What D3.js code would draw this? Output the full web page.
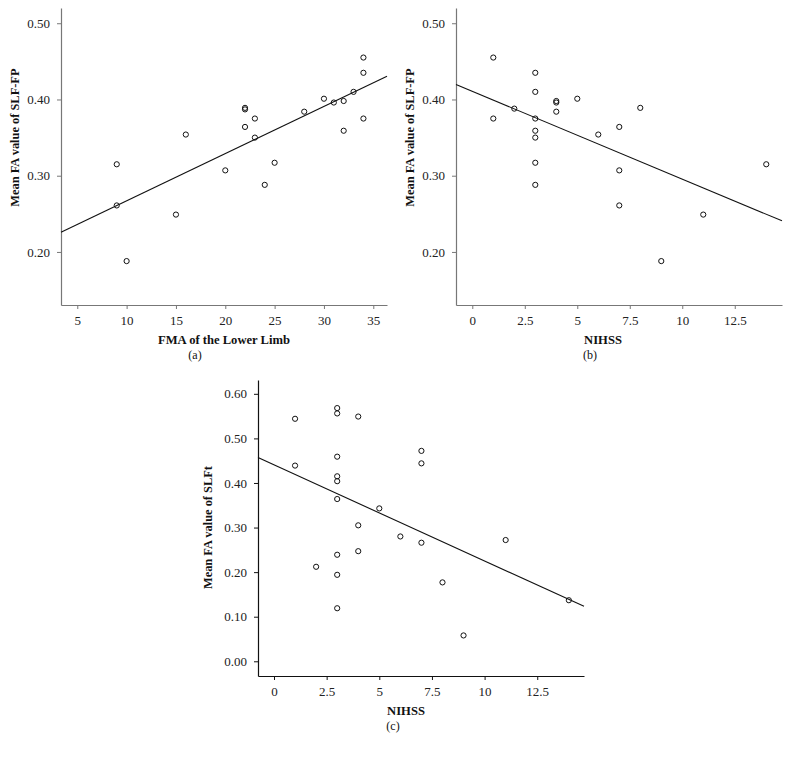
<!DOCTYPE html>
<html>
<head>
<meta charset="utf-8">
<script src="https://cdn.jsdelivr.net/npm/d3@7"></script>
<style>
  body { margin: 0; background: #fff; }
  svg, svg text { font-family: "Liberation Serif", "Times New Roman", serif; }
</style>
</head>
<body>
<div id="chart"></div>
<script>
// panel (a): FMA of the lower limb vs mean FA of SLF-FP
var fmaA = [9, 9, 10, 15, 16, 20, 22, 22, 22, 23, 23, 24, 25, 28, 30, 31, 32, 32, 33, 34, 34, 34];
var slfFpA = [0.315, 0.261, 0.188, 0.249, 0.354, 0.307, 0.389, 0.387, 0.364, 0.375, 0.350, 0.288, 0.317, 0.384, 0.401, 0.396, 0.398, 0.359, 0.410, 0.455, 0.435, 0.375];
// panel (b): NIHSS vs mean FA of SLF-FP
var nihssB = [1, 1, 2, 3, 3, 3, 3, 3, 3, 3, 4, 4, 4, 5, 6, 7, 7, 7, 8, 9, 11, 14];
var slfFpB = [0.455, 0.375, 0.388, 0.435, 0.410, 0.375, 0.359, 0.350, 0.317, 0.288, 0.398, 0.396, 0.384, 0.401, 0.354, 0.364, 0.307, 0.261, 0.389, 0.188, 0.249, 0.315];
// panel (c): NIHSS vs mean FA of SLFt
var nihssC = [1, 1, 2, 3, 3, 3, 3, 3, 3, 3, 3, 3, 4, 4, 4, 5, 6, 7, 7, 7, 8, 9, 11, 14];
var slfFtC = [0.544, 0.439, 0.212, 0.568, 0.556, 0.459, 0.415, 0.404, 0.364, 0.239, 0.194, 0.119, 0.549, 0.305, 0.247, 0.343, 0.280, 0.472, 0.444, 0.266, 0.177, 0.058, 0.272, 0.137];

// fit lines [intercept, slope]
var fitA = [0.205, 0.0062];
var fitB = [0.4107, -0.01152];
var fitC = [0.4406, -0.02155];

var ticksXA = [5, 10, 15, 20, 25, 30, 35];
var ticksXBC = [0, 2.5, 5, 7.5, 10, 12.5];
var ticksYAB = [0.20, 0.30, 0.40, 0.50];
var ticksYC = [0.00, 0.10, 0.20, 0.30, 0.40, 0.50, 0.60];

var w = 790, h = 760;
var svg = d3.select("#chart").append("svg")
    .attr("width", w)
    .attr("height", h);

function panel(cfg) {
    var x = d3.scaleLinear().domain(cfg.xDomain).range([cfg.left, cfg.right]);
    var y = d3.scaleLinear().domain(cfg.yDomain).range([cfg.bottom, cfg.top]);
    var g = svg.append("g");

    var xAxis = g.append("g")
        .attr("transform", "translate(0," + cfg.bottom + ")")
        .call(d3.axisBottom(x).tickValues(cfg.xTicks).tickSize(4).tickSizeOuter(0).tickPadding(7)
            .tickFormat(function (d) { return d3.format("")(d); }));
    var yAxis = g.append("g")
        .attr("transform", "translate(" + cfg.left + ",0)")
        .call(d3.axisLeft(y).tickValues(cfg.yTicks).tickSize(4).tickSizeOuter(0).tickPadding(7)
            .tickFormat(d3.format(".2f")));
    [xAxis, yAxis].forEach(function (a) {
        a.attr("font-family", null).attr("font-size", null);
        a.select(".domain").attr("stroke", cfg.axisColor).attr("stroke-width", 1.2);
        a.selectAll(".tick line").attr("stroke", cfg.axisColor);
        a.selectAll(".tick text").attr("fill", "#222").style("font-size", "13px");
    });

    // fit line across the plot width
    var xs = cfg.xDomain;
    g.append("line")
        .attr("x1", x(xs[0])).attr("y1", y(cfg.fit[0] + cfg.fit[1] * xs[0]))
        .attr("x2", x(xs[1])).attr("y2", y(cfg.fit[0] + cfg.fit[1] * xs[1]))
        .attr("stroke", "#111").attr("stroke-width", 1.1);

    g.selectAll("circle.pt").data(cfg.xs).enter()
        .append("circle")
        .attr("class", "pt")
        .attr("cx", function (d) { return x(d); })
        .attr("cy", function (d, i) { return y(cfg.ys[i]); })
        .attr("r", 2.6)
        .attr("fill", "none")
        .attr("stroke", "#111")
        .attr("stroke-width", 1);

    var yMid = (y(cfg.yTicks[0]) + y(cfg.yTicks[cfg.yTicks.length - 1])) / 2;
    g.append("text")
        .attr("transform", "translate(" + cfg.yTitleX + "," + yMid + ") rotate(-90)")
        .attr("text-anchor", "middle")
        .attr("dy", "0.35em")
        .style("font-size", "12.4px")
        .style("font-weight", "bold")
        .attr("fill", "#111")
        .text(cfg.yTitle);
    g.append("text")
        .attr("x", cfg.xTitleX).attr("y", cfg.bottom + 35)
        .attr("text-anchor", "middle")
        .attr("dy", "0.35em")
        .style("font-size", "12.6px")
        .style("font-weight", "bold")
        .attr("fill", "#111")
        .text(cfg.xTitle);
    g.append("text")
        .attr("x", cfg.labelX).attr("y", cfg.bottom + 50)
        .attr("text-anchor", "middle")
        .attr("dy", "0.35em")
        .style("font-size", "12px")
        .attr("fill", "#111")
        .text(cfg.label);
}

panel({
    left: 61, right: 387, top: 8, bottom: 305,
    xDomain: [3.35, 36.39], yDomain: [0.1304, 0.520],
    xTicks: ticksXA, yTicks: ticksYAB,
    xs: fmaA, ys: slfFpA, fit: fitA,
    axisColor: "#777",
    yTitle: "Mean FA value of SLF-FP", yTitleX: 15,
    xTitle: "FMA of the Lower Limb", xTitleX: 224,
    label: "(a)", labelX: 195
});

panel({
    left: 456, right: 782, top: 8, bottom: 305,
    xDomain: [-0.776, 14.75], yDomain: [0.1304, 0.520],
    xTicks: ticksXBC, yTicks: ticksYAB,
    xs: nihssB, ys: slfFpB, fit: fitB,
    axisColor: "#777",
    yTitle: "Mean FA value of SLF-FP", yTitleX: 410,
    xTitle: "NIHSS", xTitleX: 603,
    label: "(b)", labelX: 590
});

panel({
    left: 258, right: 584, top: 380, bottom: 676,
    xDomain: [-0.76, 14.72], yDomain: [-0.033, 0.631],
    xTicks: ticksXBC, yTicks: ticksYC,
    xs: nihssC, ys: slfFtC, fit: fitC,
    axisColor: "#111",
    yTitle: "Mean FA value of SLFt", yTitleX: 208,
    xTitle: "NIHSS", xTitleX: 406,
    label: "(c)", labelX: 393
});
</script>
</body>
</html>
